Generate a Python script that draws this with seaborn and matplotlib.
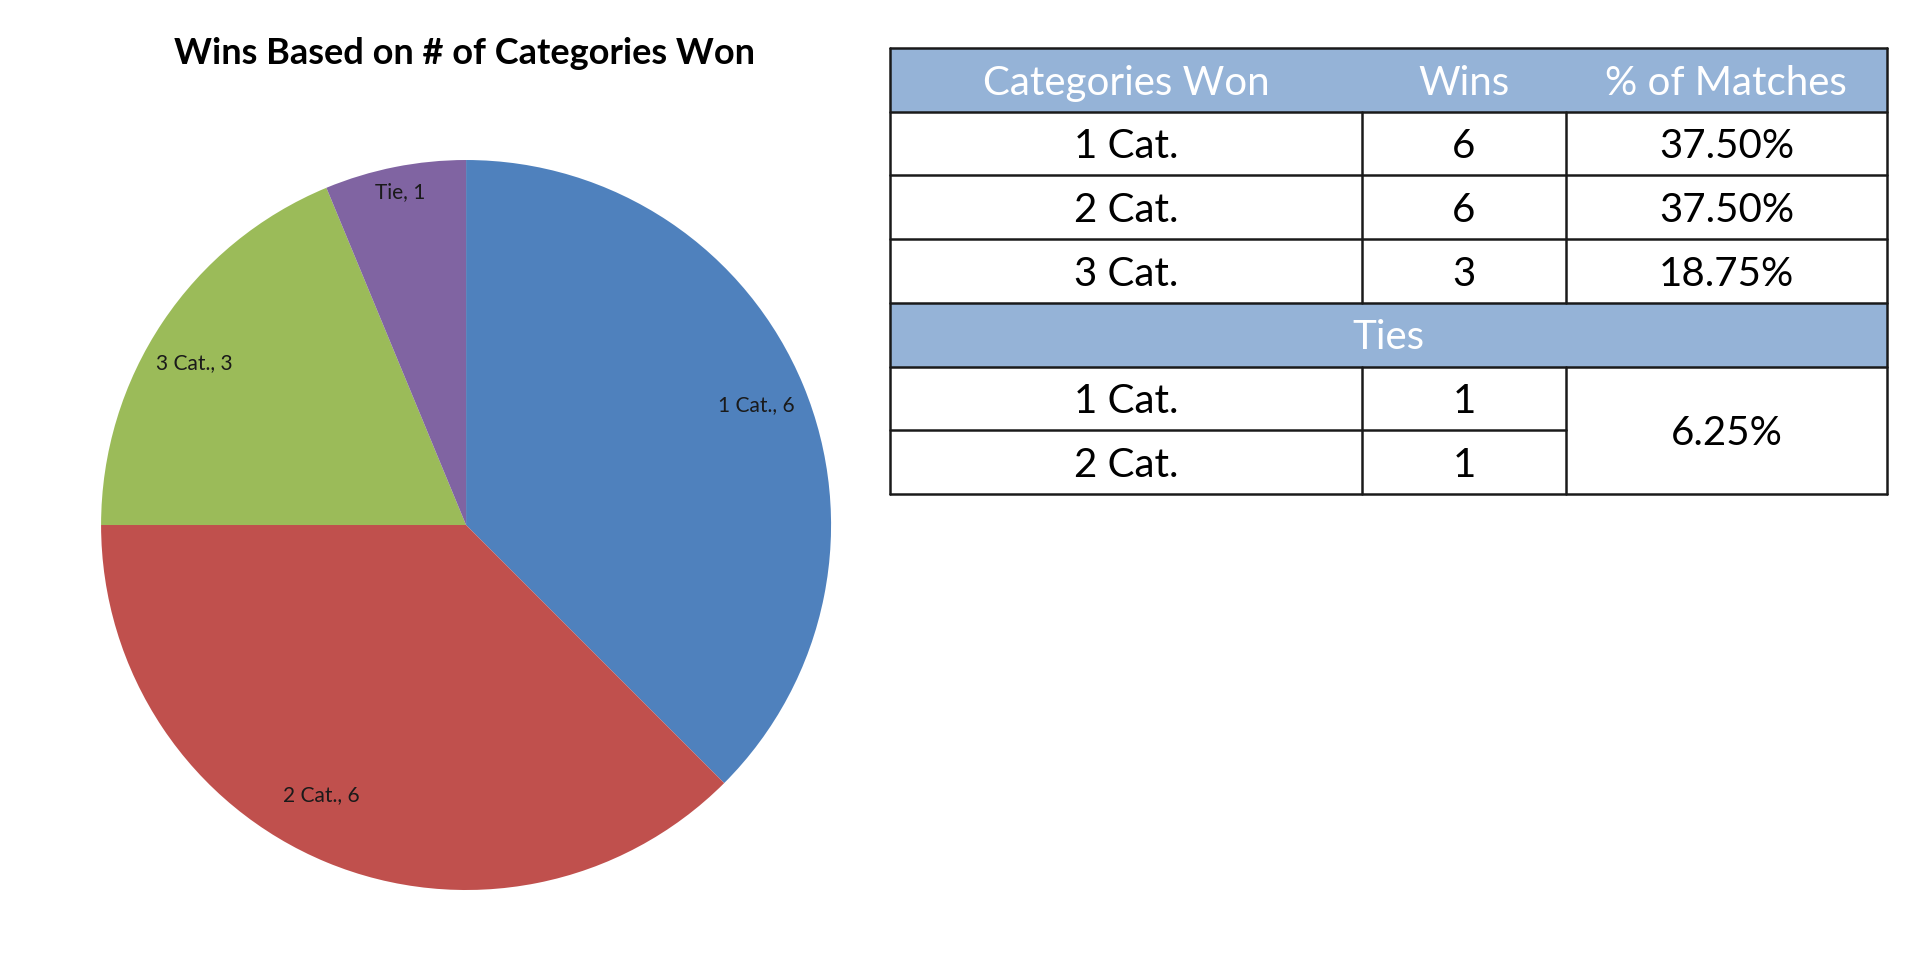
import matplotlib.pyplot as plt
import numpy as np
import seaborn as sns
from matplotlib.patches import Rectangle

# pie data
slice_labels = ["1 Cat.", "2 Cat.", "3 Cat.", "Tie"]
slice_wins = [6, 6, 3, 1]
slice_colors = ["#4F81BD", "#C0504D", "#9BBB59", "#8064A2"]

# table data
header = ["Categories Won", "Wins", "% of Matches"]
win_rows = ["1 Cat.", "2 Cat.", "3 Cat."]
win_counts = [6, 6, 3]
win_pcts = ["37.50%", "37.50%", "18.75%"]
tie_rows = ["1 Cat.", "2 Cat."]
tie_counts = [1, 1]
tie_pct = "6.25%"

sns.set_theme(style="white")
plt.rcParams["font.family"] = ["Lato", "DejaVu Sans"]

fig = plt.figure(figsize=(19.18, 9.65), dpi=100)

# ---- pie ----
ax = fig.add_axes([0.0527, 0.0777, 0.3806, 0.7565])
wedges, texts = ax.pie(
    slice_wins,
    colors=slice_colors,
    startangle=90,
    counterclock=False,
    labels=[f"{l}, {v}" for l, v in zip(slice_labels, slice_wins)],
    labeldistance=0.86,
    textprops={"fontsize": 15, "color": "#1a1a1a"},
    wedgeprops={"linewidth": 0},
)
# excel "best fit" label placement: per-slice distance and small angle nudge
label_dist = [0.86, 0.84, 0.865, 0.93]
label_nudge = [0, -5.7, 3.0, 0]
total = sum(slice_wins)
cum = np.cumsum(slice_wins) - np.array(slice_wins) / 2
for t, c, d, n in zip(texts, cum, label_dist, label_nudge):
    theta = np.deg2rad(90 - 360 * c / total + n)
    t.set_position((d * np.cos(theta), d * np.sin(theta)))
    t.set_ha("center")
    t.set_va("center")
ax.set_xlim(-1, 1)
ax.set_ylim(-1, 1)
ax.set_aspect("equal")

fig.text(465 / 1918, 1 - 53 / 965, "Wins Based on # of Categories Won",
         ha="center", va="center", fontsize=26, fontweight="bold", color="black")

# ---- table ----
tax = fig.add_axes([0.464, 0.488, 0.5198, 0.4622])
col_w = [472, 204, 321]
col_x = np.concatenate([[0], np.cumsum(col_w)])
total_w = col_x[-1]
n_rows = 7
tax.set_xlim(0, total_w)
tax.set_ylim(n_rows, 0)
tax.axis("off")

head_bg = "#95B3D7"
fs = 29


def cx(i):
    return (col_x[i] + col_x[i + 1]) / 2


def cell(x, y, s, color="black"):
    tax.text(x, y + 0.05, s, ha="center", va="center", color=color, fontsize=fs)


# header rows
for r in (0, 4):
    tax.add_patch(Rectangle((0, r), total_w, 1, facecolor=head_bg, edgecolor="none"))
for i, h in enumerate(header):
    cell(cx(i), 0.5, h, "white")
cell(total_w / 2, 4.5, "Ties", "white")

for k, (c, n, p) in enumerate(zip(win_rows, win_counts, win_pcts)):
    y = 1.5 + k
    cell(cx(0), y, c)
    cell(cx(1), y, str(n))
    cell(cx(2), y, p)

for k, (c, n) in enumerate(zip(tie_rows, tie_counts)):
    y = 5.5 + k
    cell(cx(0), y, c)
    cell(cx(1), y, str(n))
cell(cx(2), 6.0, tie_pct)

lc = "#1a1a1a"
lw = 1.8
# horizontal lines
for r in range(n_rows + 1):
    if r == 6:
        tax.plot([0, col_x[2]], [r, r], color=lc, lw=lw, clip_on=False)
    else:
        tax.plot([0, total_w], [r, r], color=lc, lw=lw, clip_on=False)
# vertical lines
tax.plot([0, 0], [0, n_rows], color=lc, lw=lw, clip_on=False)
tax.plot([total_w, total_w], [0, n_rows], color=lc, lw=lw, clip_on=False)
for i in (1, 2):
    tax.plot([col_x[i], col_x[i]], [1, 4], color=lc, lw=lw, clip_on=False)
    tax.plot([col_x[i], col_x[i]], [5, 7], color=lc, lw=lw, clip_on=False)

fig.savefig("out.png", dpi=100, facecolor="white")
